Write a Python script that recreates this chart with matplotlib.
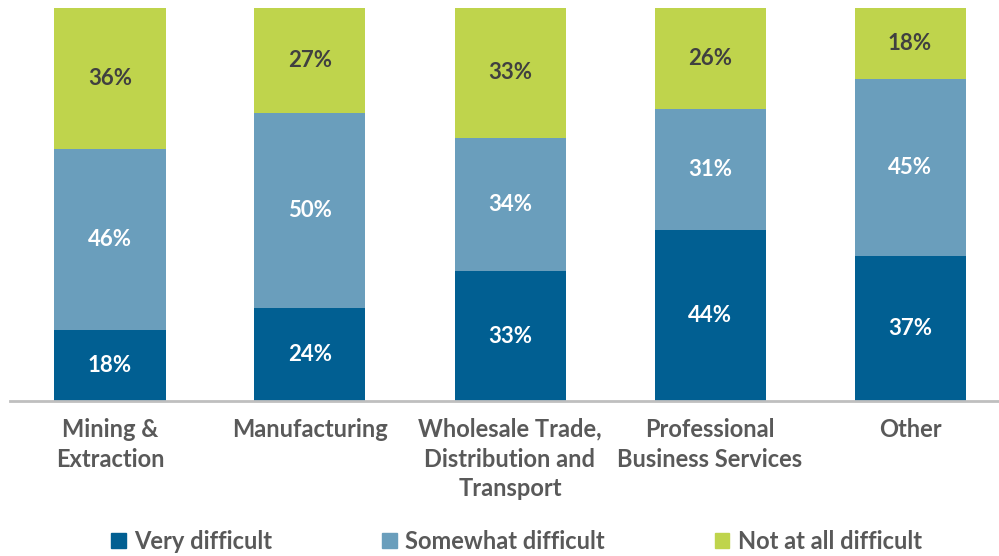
import numpy as np
import matplotlib.pyplot as plt
from matplotlib.patches import Patch

# data
categories = ["Mining &\nExtraction", "Manufacturing", "Wholesale Trade,\nDistribution and\nTransport",
              "Professional\nBusiness Services", "Other"]
very = [18, 24, 33, 44, 37]
somewhat = [46, 50, 34, 31, 45]
not_at_all = [36, 27, 33, 26, 18]
series_names = ["Very difficult", "Somewhat difficult", "Not at all difficult"]

colors = ["#015F92", "#6A9EBC", "#BFD44C"]
label_colors = ["white", "white", "#404040"]
text_gray = "#595959"

plt.rcParams["font.family"] = ["Lato", "DejaVu Sans"]

vals = np.array([very, somewhat, not_at_all], dtype=float)
shares = vals / vals.sum(axis=0)   # bars are drawn as 100% stacks

fig = plt.figure(figsize=(9.99, 5.56), dpi=100)
ax = fig.add_axes([10 / 999, 155 / 556, 989 / 999, 393 / 556])

x = np.arange(len(categories))
bottom = np.zeros(len(categories))
for i in range(3):
    ax.bar(x, shares[i], bottom=bottom, width=0.555, color=colors[i], edgecolor="none")
    for j in range(len(categories)):
        ax.text(x[j], bottom[j] + shares[i][j] / 2, f"{int(vals[i][j])}%",
                ha="center", va="center", fontsize=16, fontweight="bold",
                color=label_colors[i])
    bottom += shares[i]

ax.set_xlim(-0.5, 4.445)
ax.set_ylim(0, 1)
ax.set_yticks([])
ax.set_xticks(x)
ax.set_xticklabels(categories, fontsize=17, color=text_gray, fontweight="bold", linespacing=1.36)
ax.tick_params(axis="x", length=0, pad=12)
for s in ["top", "right", "left"]:
    ax.spines[s].set_visible(False)
ax.spines["bottom"].set_color("#BFBFBF")
ax.spines["bottom"].set_linewidth(2)

handles = [Patch(color=c) for c in colors]
fig.legend(handles, series_names, loc="center", bbox_to_anchor=(0.517, 0.026), ncol=3,
           frameon=False, handlelength=0.62, handleheight=0.62, handletextpad=0.35,
           columnspacing=4.66, labelcolor=text_gray, prop={"weight": "bold", "size": 17})

fig.savefig("out.png", dpi=100)
